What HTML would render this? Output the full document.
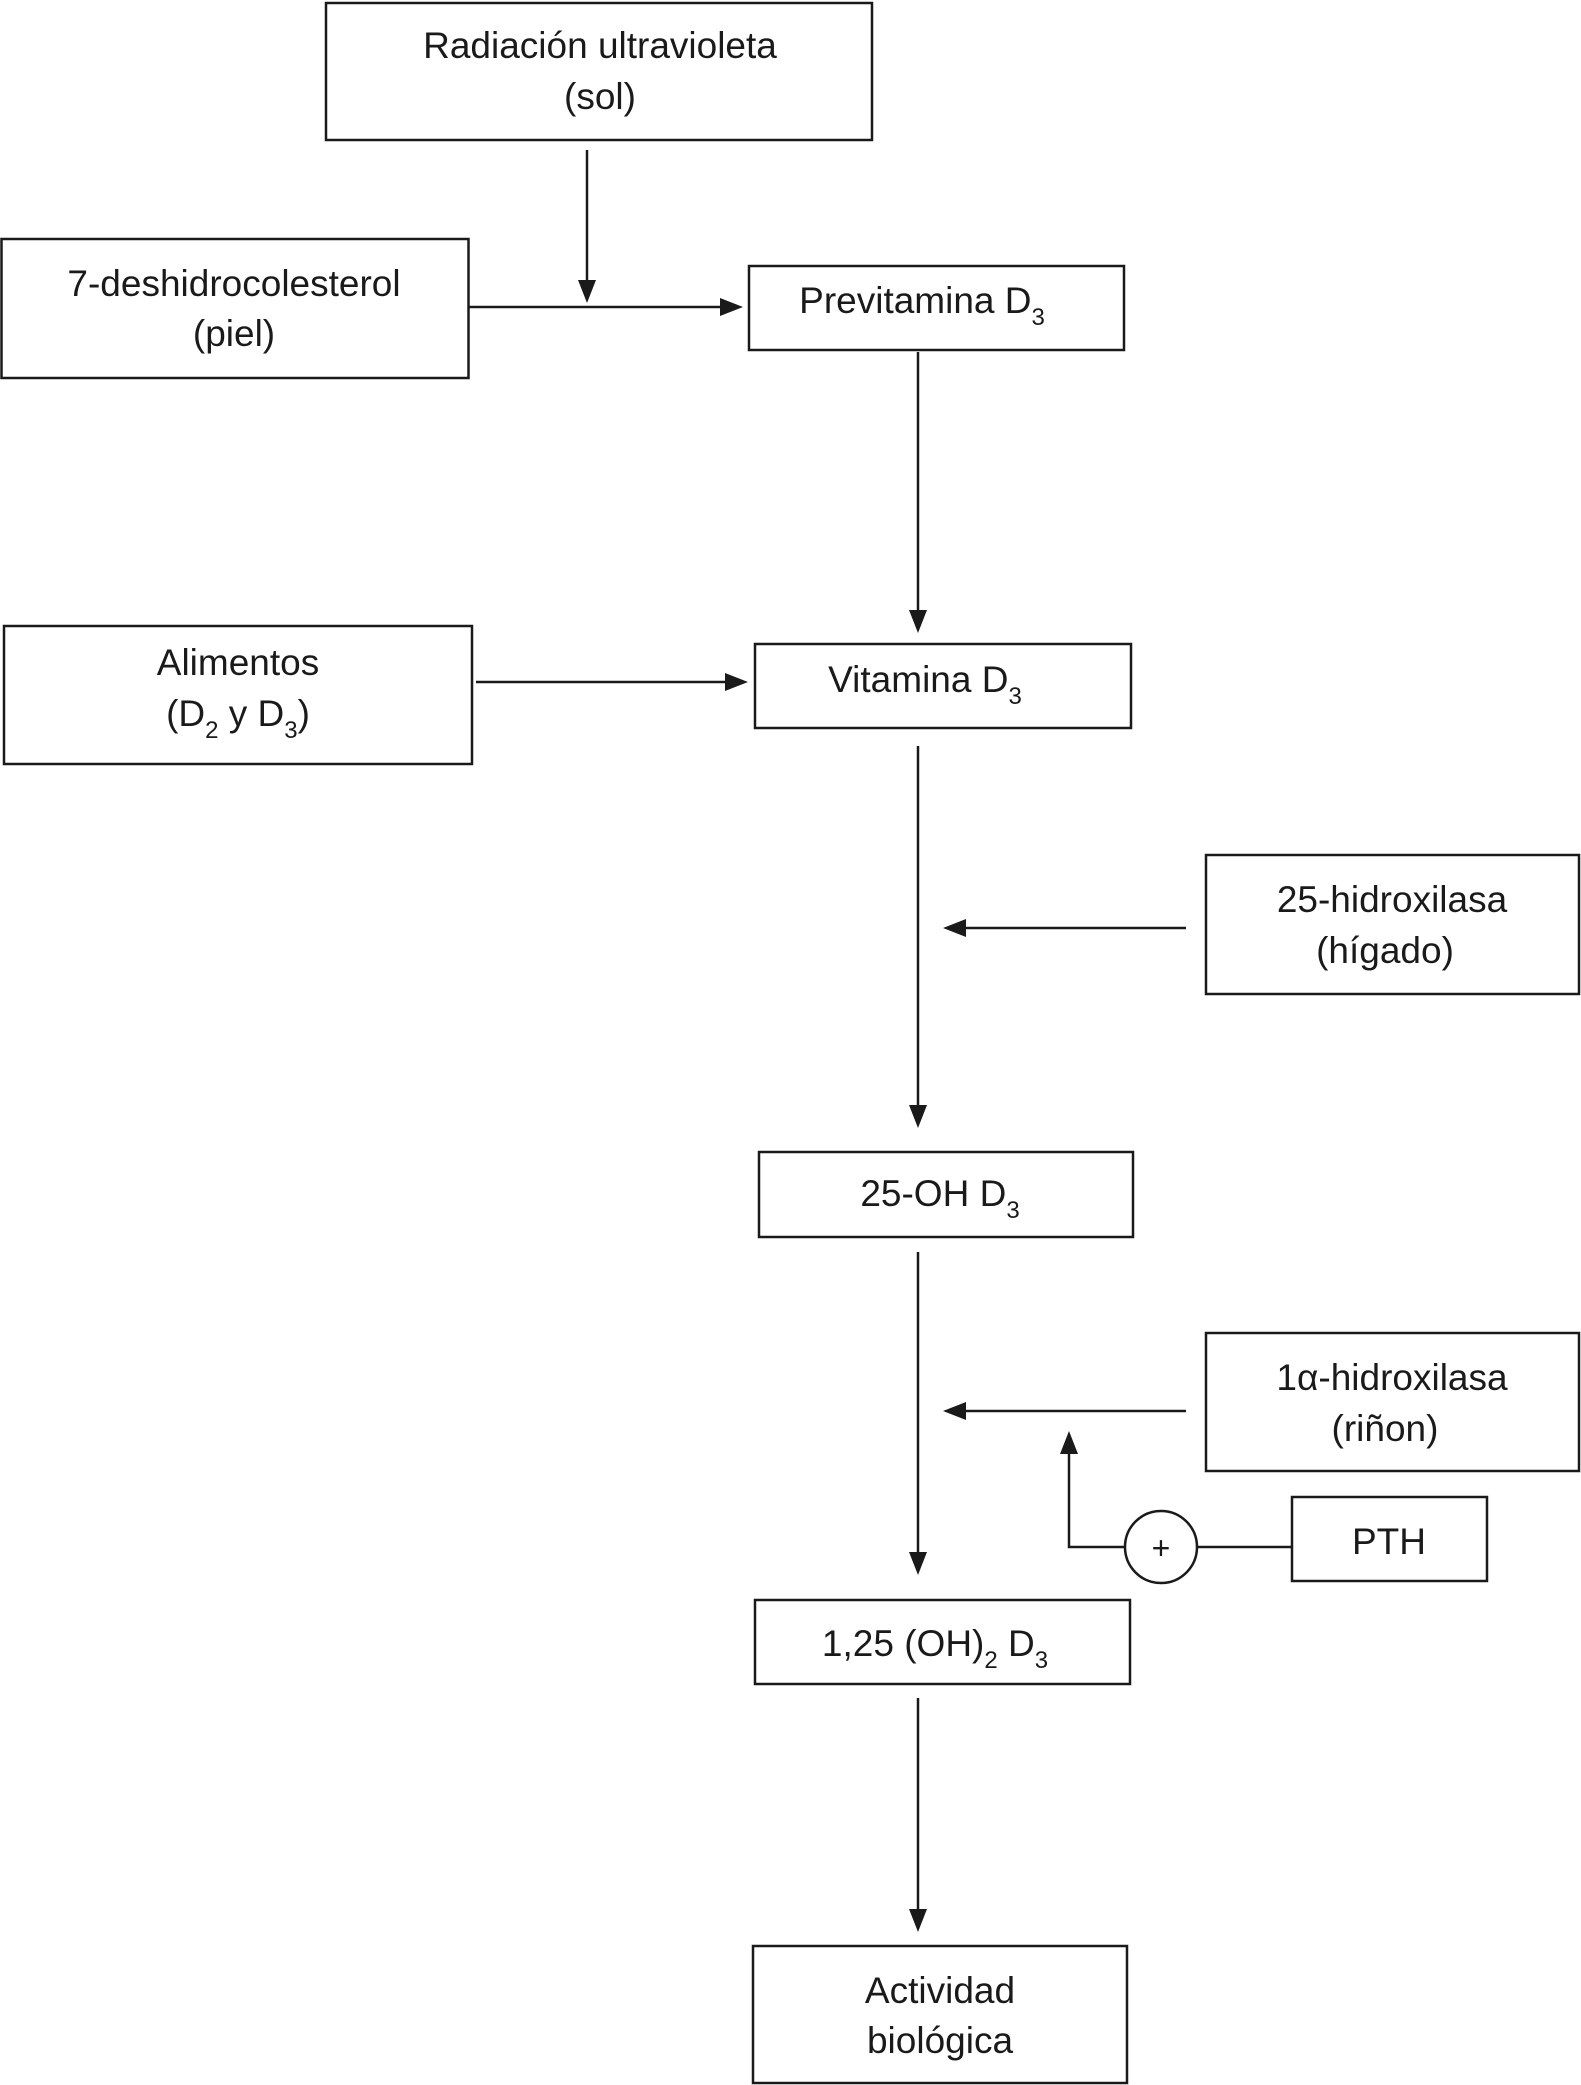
<!DOCTYPE html>
<html><head><meta charset="utf-8"><style>
html,body{margin:0;padding:0;background:#fff}
svg{display:block}
text{font-family:"Liberation Sans",sans-serif;font-size:37px;fill:#1a1a1a;text-anchor:middle}
.s{font-size:24px}
</style></head><body>
<svg width="1581" height="2085" viewBox="0 0 1581 2085" xmlns="http://www.w3.org/2000/svg">
<defs><marker id="a" markerWidth="10" markerHeight="8" refX="9" refY="4" orient="auto" markerUnits="userSpaceOnUse" viewBox="0 0 10 8" style="overflow:visible"><path d="M0,0 L10,4 L0,8 z" fill="#1a1a1a" transform="scale(2.4)"/></marker></defs>
<g fill="none" stroke="#1a1a1a" stroke-width="2.5">
<rect x="326" y="3" width="546" height="137"/>
<rect x="1.5" y="239" width="467" height="139"/>
<rect x="749" y="266" width="375" height="84"/>
<rect x="755" y="644" width="376" height="84"/>
<rect x="4" y="626" width="468" height="138"/>
<rect x="1206" y="855" width="373" height="139"/>
<rect x="759" y="1152" width="374" height="85"/>
<rect x="1206" y="1333" width="373" height="138"/>
<rect x="1292" y="1497" width="195" height="84"/>
<rect x="755" y="1600" width="375" height="84"/>
<rect x="753" y="1946" width="374" height="137"/>
<circle cx="1161" cy="1547" r="36"/>
</g>
<g stroke="#1a1a1a" stroke-width="2.5" fill="none">
<line x1="587" y1="150" x2="587" y2="280"/>
<line x1="468" y1="307" x2="720" y2="307"/>
<line x1="918" y1="352" x2="918" y2="610"/>
<line x1="476" y1="682" x2="725" y2="682"/>
<line x1="918" y1="746" x2="918" y2="1105"/>
<line x1="1186" y1="928" x2="966" y2="928"/>
<line x1="918" y1="1252" x2="918" y2="1552"/>
<line x1="1186" y1="1411" x2="966" y2="1411"/>
<line x1="1292" y1="1547" x2="1197" y2="1547"/>
<polyline points="1125,1547 1069,1547 1069,1454"/>
<line x1="918" y1="1698" x2="918" y2="1909"/>
</g>
<g fill="#1a1a1a">
<path d="M578,280 L596,280 L587,303 z"/>
<path d="M720,298 L720,316 L743,307 z"/>
<path d="M909,610 L927,610 L918,633 z"/>
<path d="M725,673 L725,691 L748,682 z"/>
<path d="M909,1105 L927,1105 L918,1128 z"/>
<path d="M966,919 L966,937 L943,928 z"/>
<path d="M909,1552 L927,1552 L918,1575 z"/>
<path d="M966,1402 L966,1420 L943,1411 z"/>
<path d="M1060,1454 L1078,1454 L1069,1431 z"/>
<path d="M909,1909 L927,1909 L918,1932 z"/>
</g>
<text x="600" y="58">Radiación ultravioleta</text>
<text x="600" y="109">(sol)</text>
<text x="234" y="296">7-deshidrocolesterol</text>
<text x="234" y="346">(piel)</text>
<text x="922" y="313">Previtamina D<tspan class="s" dy="12">3</tspan></text>
<text x="925" y="692">Vitamina D<tspan class="s" dy="12">3</tspan></text>
<text x="238" y="675">Alimentos</text>
<text x="238" y="726">(D<tspan class="s" dy="12">2</tspan><tspan dy="-12"> y D</tspan><tspan class="s" dy="12">3</tspan><tspan dy="-12">)</tspan></text>
<text x="1392" y="912">25-hidroxilasa</text>
<text x="1385" y="963">(hígado)</text>
<text x="940" y="1206">25-OH D<tspan class="s" dy="12">3</tspan></text>
<text x="1392" y="1390">1α-hidroxilasa</text>
<text x="1385" y="1441">(riñon)</text>
<text x="1389" y="1554">PTH</text>
<text x="1161" y="1559" style="font-size:32px">+</text>
<text x="935" y="1656">1,25 (OH)<tspan class="s" dy="12">2</tspan><tspan dy="-12"> D</tspan><tspan class="s" dy="12">3</tspan></text>
<text x="940" y="2003">Actividad</text>
<text x="940" y="2053">biológica</text>
</svg>
</body></html>
